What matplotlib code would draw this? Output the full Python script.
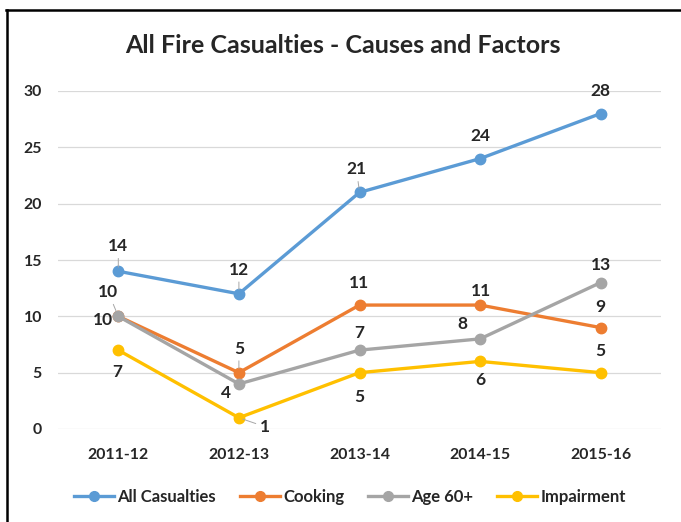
import matplotlib
matplotlib.use("Agg")
import matplotlib.pyplot as plt
from matplotlib.lines import Line2D

years = ["2011-12", "2012-13", "2013-14", "2014-15", "2015-16"]
all_casualties = [14, 12, 21, 24, 28]
cooking = [10, 5, 11, 11, 9]
age_60 = [10, 4, 7, 8, 13]
impairment = [7, 1, 5, 6, 5]

series_names = ["All Casualties", "Cooking", "Age 60+", "Impairment"]
colors = ["#5B9BD5", "#ED7D31", "#A5A5A5", "#FFC000"]

# label offsets in pixels (dx, dy) and whether a leader line is drawn
label_offsets = [
    [(0, 25, True), (0, 24, True), (-3, 23, True), (0, 23, False), (0, 23, False)],
    [(-10, 24, True), (0, 24, True), (0, 22, False), (1, 14, False), (0, 21, False)],
    [(-15, -4, False), (-13, -9, False), (0, 17, False), (-18, 15, False), (0, 18, False)],
    [(-1, -22, False), (26, -9, True), (0, -24, False), (0, -19, False), (0, 22, False)],
]

plt.rcParams["font.family"] = ["Lato", "DejaVu Sans"]
plt.rcParams["font.weight"] = "bold"

fig = plt.figure(figsize=(6.81, 5.22), dpi=100)
ax = fig.add_axes([58 / 681, 1 - 429 / 522, (661 - 58) / 681, (429 - 91) / 522])

x = list(range(len(years)))
data = [all_casualties, cooking, age_60, impairment]
for name, vals, col in zip(series_names, data, colors):
    ax.plot(x, vals, color=col, lw=2.4, marker="o", ms=7.5, label=name,
            solid_capstyle="round", zorder=3)

for vals, offs in zip(data, label_offsets):
    for xi, v, (dx, dy, lead) in zip(x, vals, offs):
        kw = {}
        if lead:
            kw["arrowprops"] = dict(arrowstyle="-", color="#A6A6A6", lw=0.7,
                                    shrinkA=1, shrinkB=3)
        ax.annotate(str(v), (xi, v), xytext=(dx, dy), textcoords="offset pixels",
                    ha="center", va="center", fontsize=12.5, fontweight="bold",
                    color="#262626", zorder=4, **kw)

ax.set_xlim(-0.5, 4.5)
ax.set_ylim(0, 30)
ax.set_yticks(range(0, 31, 5))
ax.set_xticks(x)
ax.set_xticklabels(years)
ax.grid(axis="y", color="#D9D9D9", lw=0.9, zorder=0)
for s in ax.spines.values():
    s.set_visible(False)
ax.tick_params(axis="both", length=0, labelsize=11.4, labelcolor="#262626")
ax.tick_params(axis="x", pad=14)
ax.tick_params(axis="y", pad=11.5)
for lab in ax.get_xticklabels() + ax.get_yticklabels():
    lab.set_fontweight("bold")

fig.text(343 / 681, 1 - 45 / 522, "All Fire Casualties - Causes and Factors",
         ha="center", va="center", fontsize=18, fontweight="bold", color="#262626")

handles = [Line2D([0], [0], color=c, lw=2.4, marker="o", ms=7) for c in colors]
leg = fig.legend(handles, series_names, loc="center", bbox_to_anchor=(350 / 681, 1 - 497 / 522),
                 ncol=4, frameon=False, fontsize=12, handlelength=2.4, handletextpad=0.18,
                 columnspacing=1.45, borderpad=0, borderaxespad=0)
for t in leg.get_texts():
    t.set_color("#262626")
    t.set_fontweight("bold")

# outer frame edges
fig.add_artist(Line2D([6 / 681, 1.0], [1 - 9.5 / 522] * 2, color="black", lw=1.8,
                      transform=fig.transFigure))
fig.add_artist(Line2D([7 / 681] * 2, [0, 1 - 9.5 / 522], color="black", lw=1.8,
                      transform=fig.transFigure))

fig.savefig("out.png", dpi=100)
